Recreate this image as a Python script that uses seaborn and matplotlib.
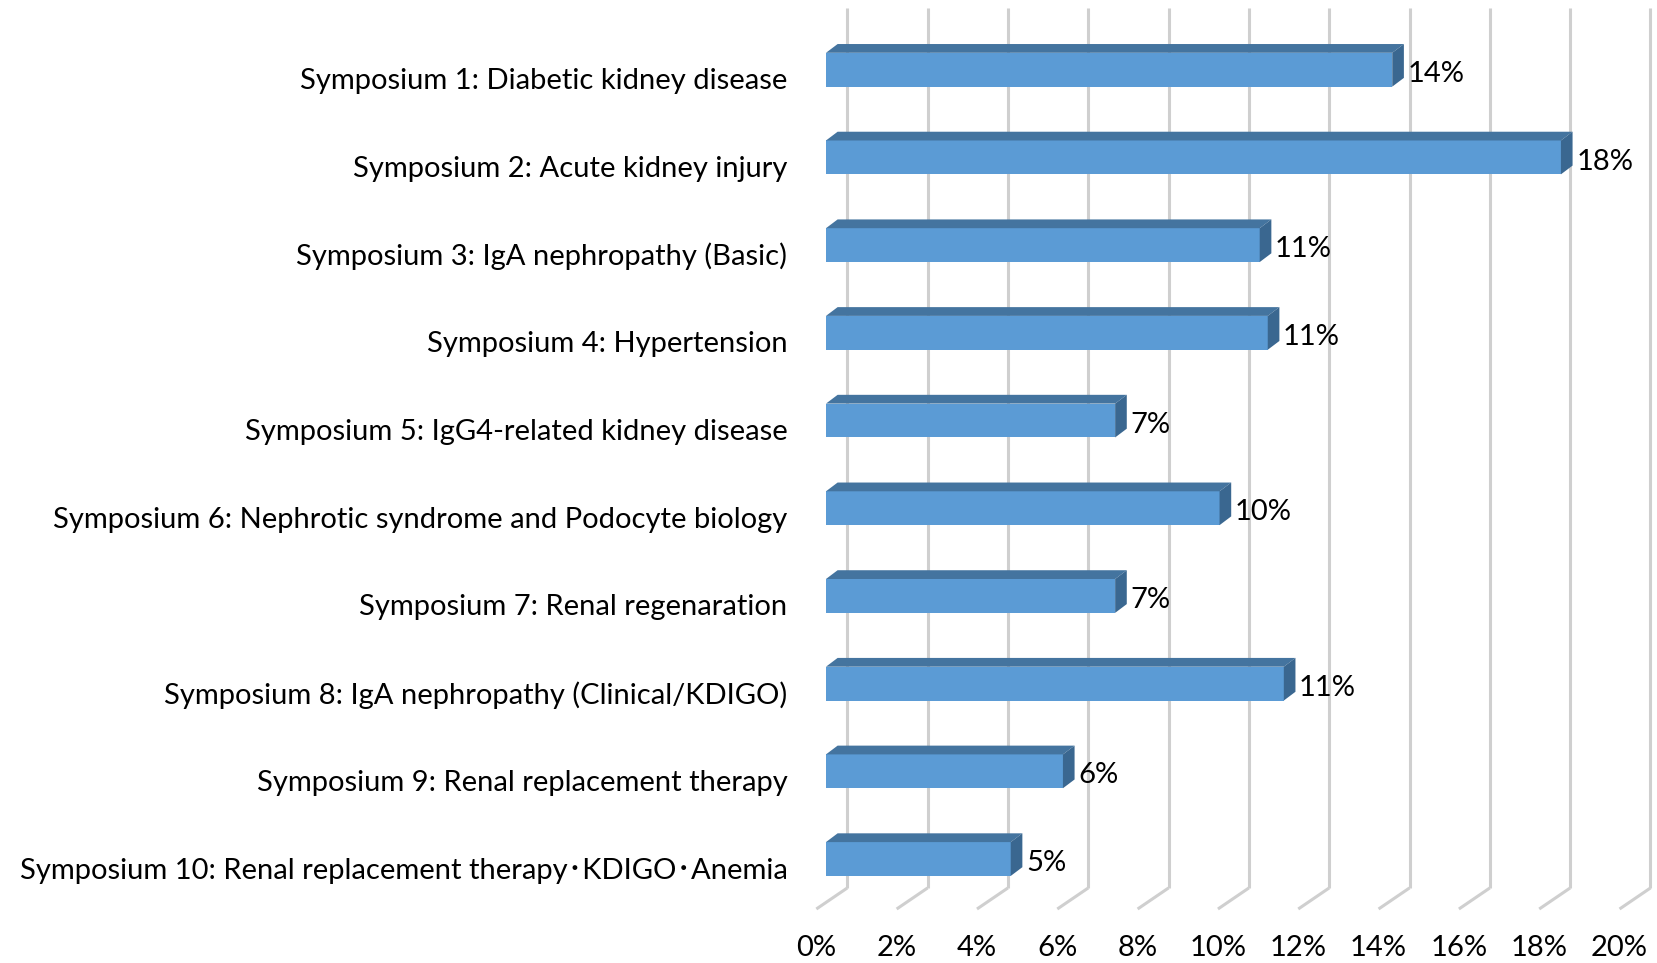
"""
plot.py
Excel-style 3D horizontal bar chart of symposium attendance shares.
"""

import matplotlib
matplotlib.use('Agg')
import matplotlib.pyplot as plt
import seaborn as sns
from matplotlib.patches import Polygon
from matplotlib.transforms import ScaledTranslation

symposia = [
    "Symposium 1: Diabetic kidney disease",
    "Symposium 2: Acute kidney injury",
    "Symposium 3: IgA nephropathy (Basic)",
    "Symposium 4: Hypertension",
    "Symposium 5: IgG4-related kidney disease",
    "Symposium 6: Nephrotic syndrome and Podocyte biology",
    "Symposium 7: Renal regenaration",
    "Symposium 8: IgA nephropathy (Clinical/KDIGO)",
    "Symposium 9: Renal replacement therapy",
    "Symposium 10: Renal replacement therapy\uff65KDIGO\uff65Anemia",
]
share_pct = [14.1, 18.3, 10.8, 11.0, 7.2, 9.8, 7.2, 11.4, 5.9, 4.6]
axis_ticks = list(range(0, 21, 2))

FRONT = '#5b9bd5'
TOP = '#44749f'
SIDE = '#3a6790'
GRID = '#cfcfcf'

# fake-3D geometry, in data units (percent, category index)
BAR_DX, BAR_DY = 0.29, -0.10      # depth of the bar top / side faces
WALL_DX, WALL_DY = 0.53, -0.24    # back wall offset from the bar plane
FLOOR_DX = -0.24                  # front edge of the floor
FLOOR_Y = 9.57
WALL_TOP = -0.70

sns.set_theme(style='white')
plt.rcParams['font.family'] = ['Lato', 'Noto Sans CJK JP', 'DejaVu Sans']

fig = plt.figure(figsize=(16.57, 9.63), dpi=100)
ax = fig.add_axes([800 / 1657, 1 - 925 / 963, 857 / 1657, 925 / 963])

# back wall gridlines and floor diagonals
for t in axis_ticks:
    xb = t + WALL_DX
    yb = FLOOR_Y + WALL_DY
    ax.plot([xb, xb], [WALL_TOP, yb], color=GRID, lw=2.2, zorder=1,
            solid_capstyle='butt')
    ax.plot([xb, t + FLOOR_DX], [yb, FLOOR_Y], color=GRID, lw=2.2, zorder=1,
            solid_capstyle='butt')

sns.barplot(x=share_pct, y=symposia, orient='h', color=FRONT, saturation=1,
            width=0.386, ax=ax, zorder=3, linewidth=0)

for bar in ax.patches:
    x0 = bar.get_x()
    x1 = x0 + bar.get_width()
    y_top = bar.get_y()
    y_bot = y_top + bar.get_height()
    top = Polygon([(x0, y_top), (x0 + BAR_DX, y_top + BAR_DY),
                   (x1 + BAR_DX, y_top + BAR_DY), (x1, y_top)],
                  closed=True, facecolor=TOP, edgecolor='none', zorder=3)
    side = Polygon([(x1, y_top), (x1 + BAR_DX, y_top + BAR_DY),
                    (x1 + BAR_DX, y_bot + BAR_DY), (x1, y_bot)],
                   closed=True, facecolor=SIDE, edgecolor='none', zorder=3)
    ax.add_patch(top)
    ax.add_patch(side)

value_texts = ax.bar_label(ax.containers[0],
                           labels=[f"{v:.0f}%" for v in share_pct],
                           padding=11, fontsize=21, color='black')
for txt in value_texts:
    txt.xyann = (11, -3)

ax.set_xlim(-0.647, -0.647 + 857 / 40.16)
ax.set_ylim(-0.795 + 925 / 87.7, -0.795)

ax.set_xticks([t + FLOOR_DX for t in axis_ticks])
ax.set_xticklabels([f"{t}%" for t in axis_ticks])
ax.tick_params(axis='x', length=0, pad=7, labelsize=21, labelcolor='black')
ax.tick_params(axis='y', length=0, pad=9, labelsize=21, labelcolor='black')
ax.set_xlabel('')
ax.set_ylabel('')
ax.grid(False)
sns.despine(ax=ax, left=True, bottom=True)

# nudge category labels down to sit like the Calibri baseline in Excel
down_cat = ScaledTranslation(0, -0.09, fig.dpi_scale_trans)
for lab in ax.get_yticklabels():
    lab.set_transform(lab.get_transform() + down_cat)

fig.savefig('out.png', dpi=100)
plt.close(fig)
